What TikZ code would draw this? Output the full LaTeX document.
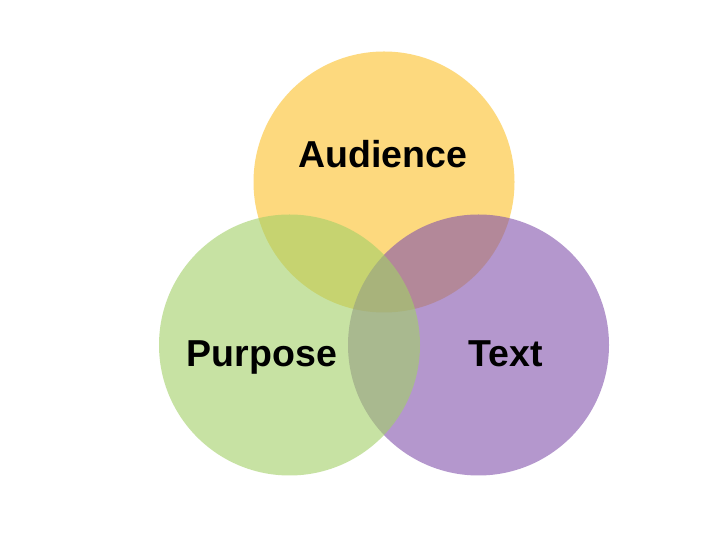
\documentclass[tikz,border=0pt]{standalone}
\usepackage{fontspec}
\setmainfont{Liberation Sans}
\definecolor{cyellow}{RGB}{252,193,40}
\definecolor{cgreen}{RGB}{162,208,103}
\definecolor{cpurple}{RGB}{130,82,172}
\begin{document}
\begin{tikzpicture}[x=1pt,y=1pt,
  venn/.style={circle,inner sep=0pt,minimum size=261pt,fill opacity=0.6},
  lbl/.style={anchor=base,font=\fontsize{37.5}{45}\selectfont\bfseries,text=black}]
\fill[white] (0,0) rectangle (728,546);
\useasboundingbox (0,0) rectangle (728,546);
\node[venn,fill=cyellow] (aud) at (384,364) {};
\node[venn,fill=cpurple] (txt) at (478.5,201) {};
\node[venn,fill=cgreen] (pur) at (289.5,201) {};
\node[lbl] (laud) at (383,378) {Audience};
\node[lbl] (lpur) at (262,179) {Purpose};
\node[lbl] (ltxt) at (505.5,179) {Text};
\end{tikzpicture}
\end{document}
